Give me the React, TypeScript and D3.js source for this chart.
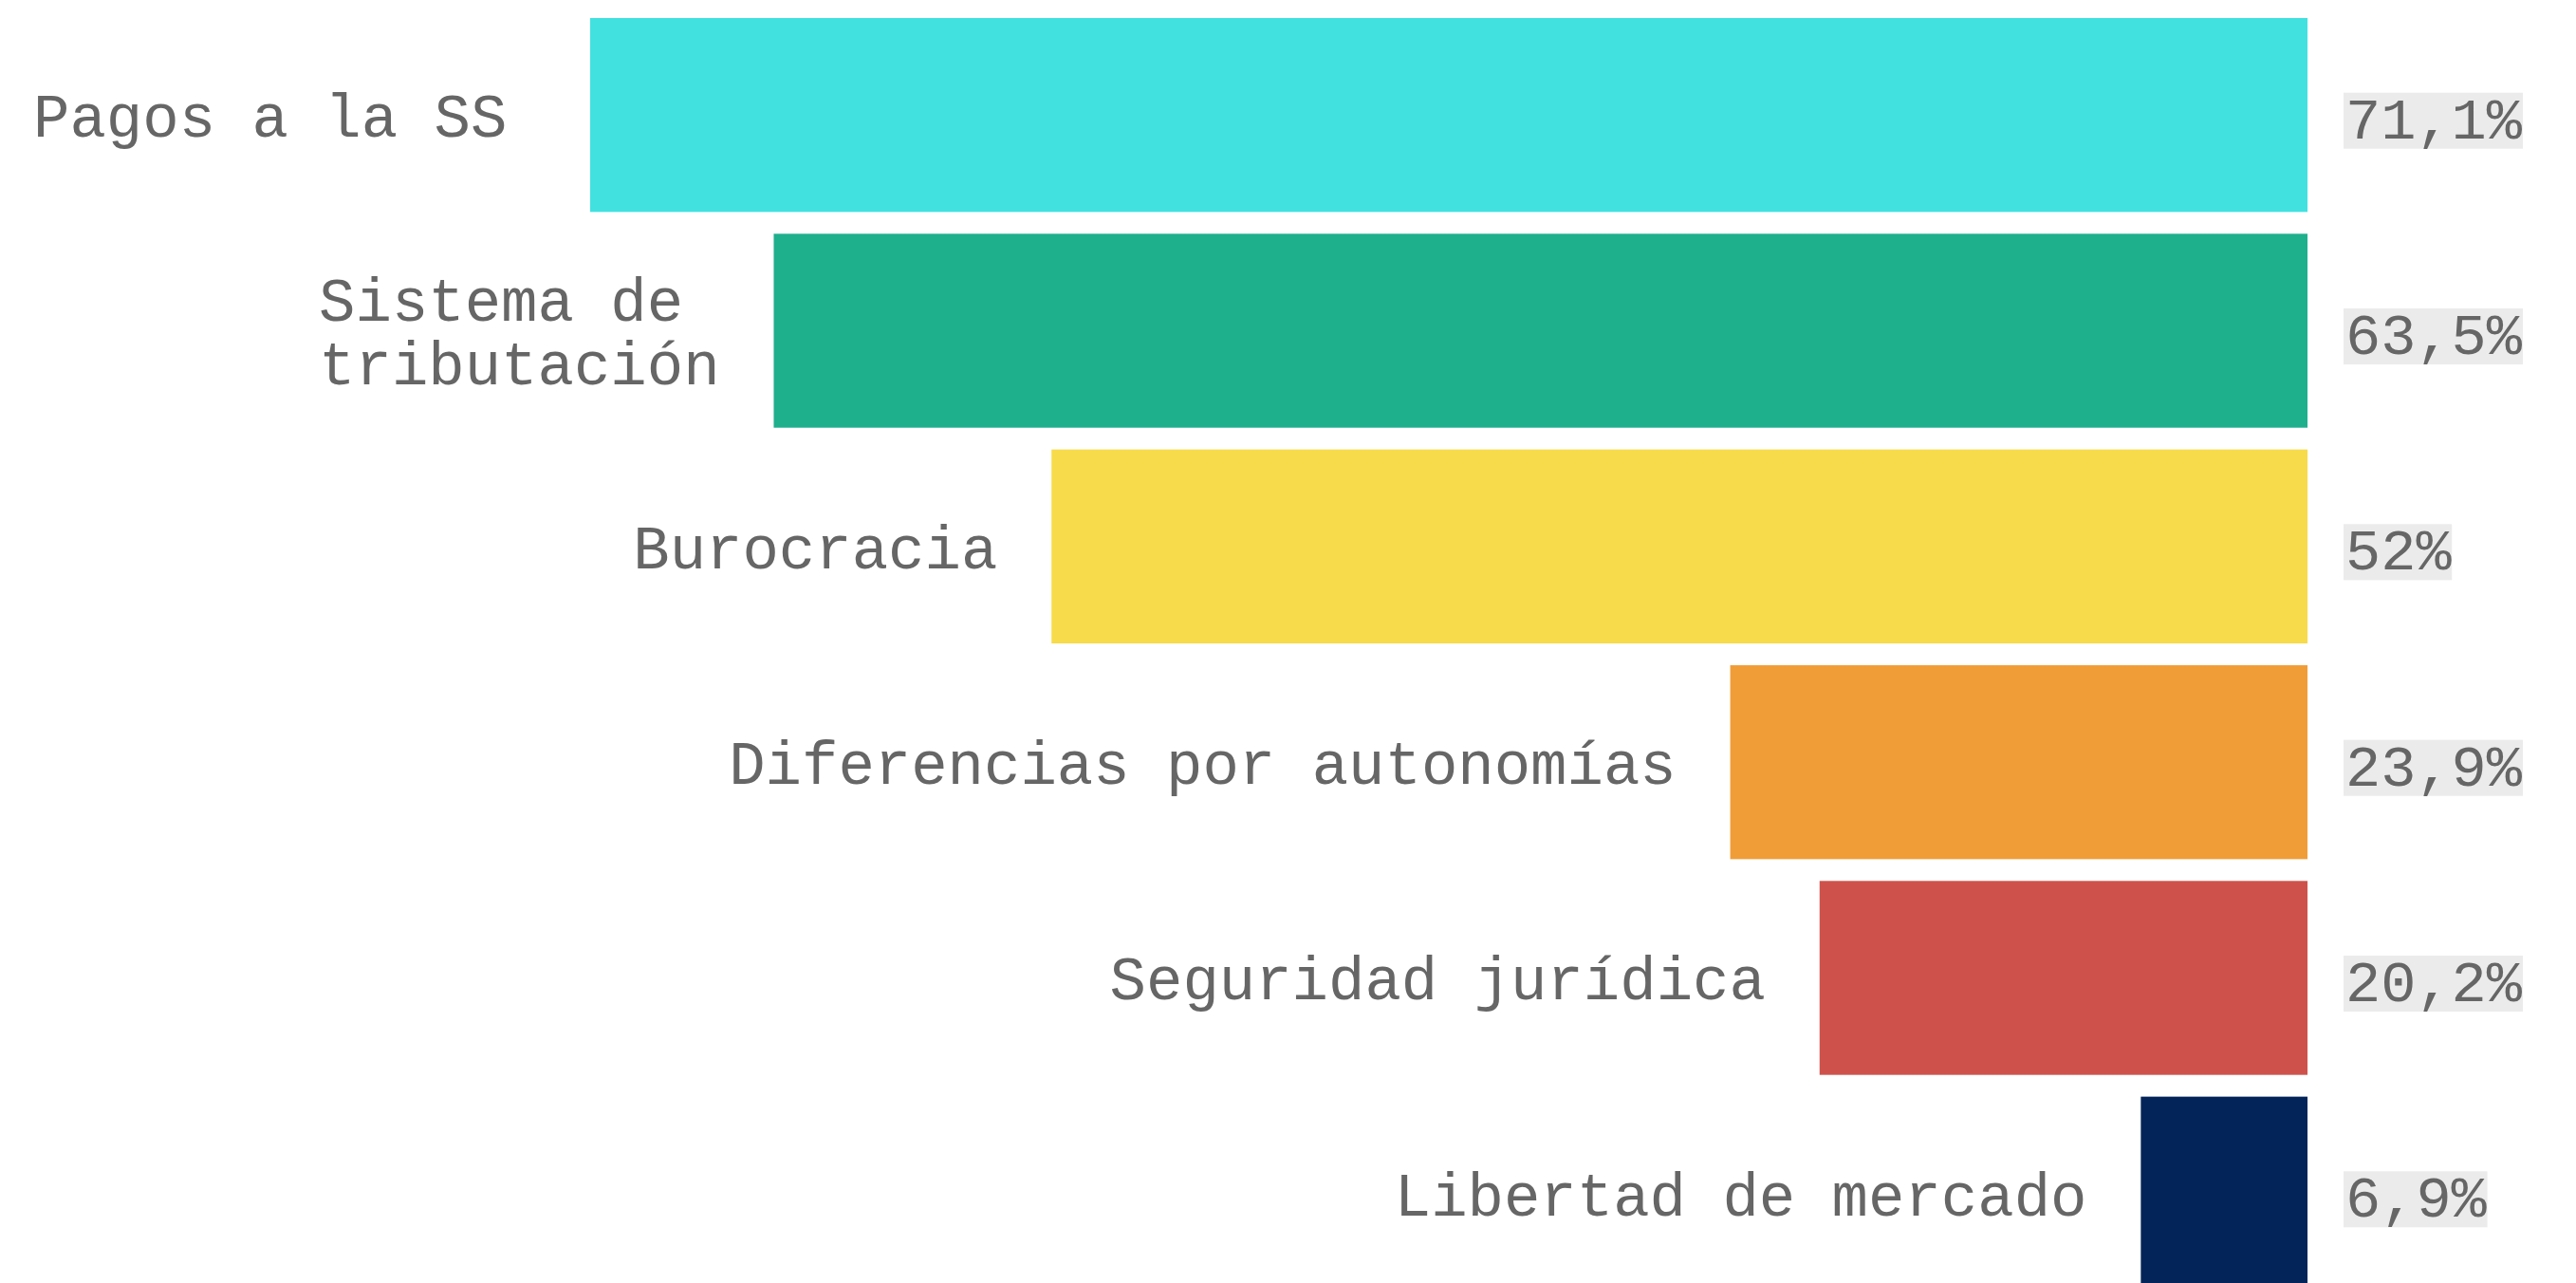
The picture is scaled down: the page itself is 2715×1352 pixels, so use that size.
import React from "react";
import * as d3 from "d3";

const categories = [
  "Pagos a la SS",
  "Sistema de tributación",
  "Burocracia",
  "Diferencias por autonomías",
  "Seguridad jurídica",
  "Libertad de mercado",
];
const values = [71.1, 63.5, 52, 23.9, 20.2, 6.9];
const colors = ["#41e1e0", "#1eaf8d", "#f7db4a", "#f09d38", "#ce524b", "#022459"];

const W = 2715;
const H = 1352;
const FONT = "'Liberation Mono', 'DejaVu Sans Mono', monospace";
const labelSize = 64;
const charW = labelSize * 0.6;
const lineH = 67;

// comma decimal like the original
const fmt = (v: number) => (Number.isInteger(v) ? String(v) : v.toFixed(1).replace(".", ",")) + "%";

// break a label into lines that fit the room left of its bar
function wrap(text: string, room: number) {
  const words = text.split(" ");
  if (text.length * charW <= room) return [text];
  const lines: string[] = [];
  let cur = "";
  words.forEach((w) => {
    const next = cur ? cur + " " + w : w;
    if (cur && next.length * charW > room) {
      lines.push(cur);
      cur = w;
    } else cur = next;
  });
  if (cur) lines.push(cur);
  return lines;
}

const App = () => {
  const x = d3.scaleLinear().domain([0, d3.max(values)!]).range([2432, 622]);
  const y = d3.scaleBand().domain(categories).range([19, 1360]).paddingInner(0.101).paddingOuter(0);

  return (
    <div style={{ position: "fixed", left: 0, top: 0, width: W, height: H, overflow: "hidden", background: "#fff" }}>
      <svg width={W} height={H} style={{ display: "block" }}>
        {categories.map((c, i) => {
          const v = values[i];
          const left = x(v);
          const top = y(c)!;
          const bw = y.bandwidth();
          const cy = top + bw / 2;
          const right = left - 57;
          const lines = wrap(c, right - 35);
          const width = d3.max(lines, (l) => l.length)! * charW;
          let lx = right - width;
          if (lx < 120) lx = 35;
          const label = fmt(v);
          const vx = x(0) + 38;
          return (
            <g key={c}>
              <rect x={left} y={top} width={x(0) - left} height={bw} fill={colors[i]} />
              <text
                x={lx}
                y={cy + 6 - ((lines.length - 1) * lineH) / 2}
                fontFamily={FONT}
                fontSize={labelSize}
                fill="#666"
                dominantBaseline="central"
              >
                {lines.map((l, j) => (
                  <tspan key={j} x={lx} dy={j === 0 ? 0 : lineH}>
                    {l}
                  </tspan>
                ))}
              </text>
              <rect x={vx} y={cy + 6 - 29.5} width={label.length * 37.4 + 2} height={59} fill="#ebebeb" />
              <text x={vx + 2} y={cy + 8} fontFamily={FONT} fontSize={62} fill="#666" dominantBaseline="central">
                {label}
              </text>
            </g>
          );
        })}
      </svg>
    </div>
  );
};

export default App;
